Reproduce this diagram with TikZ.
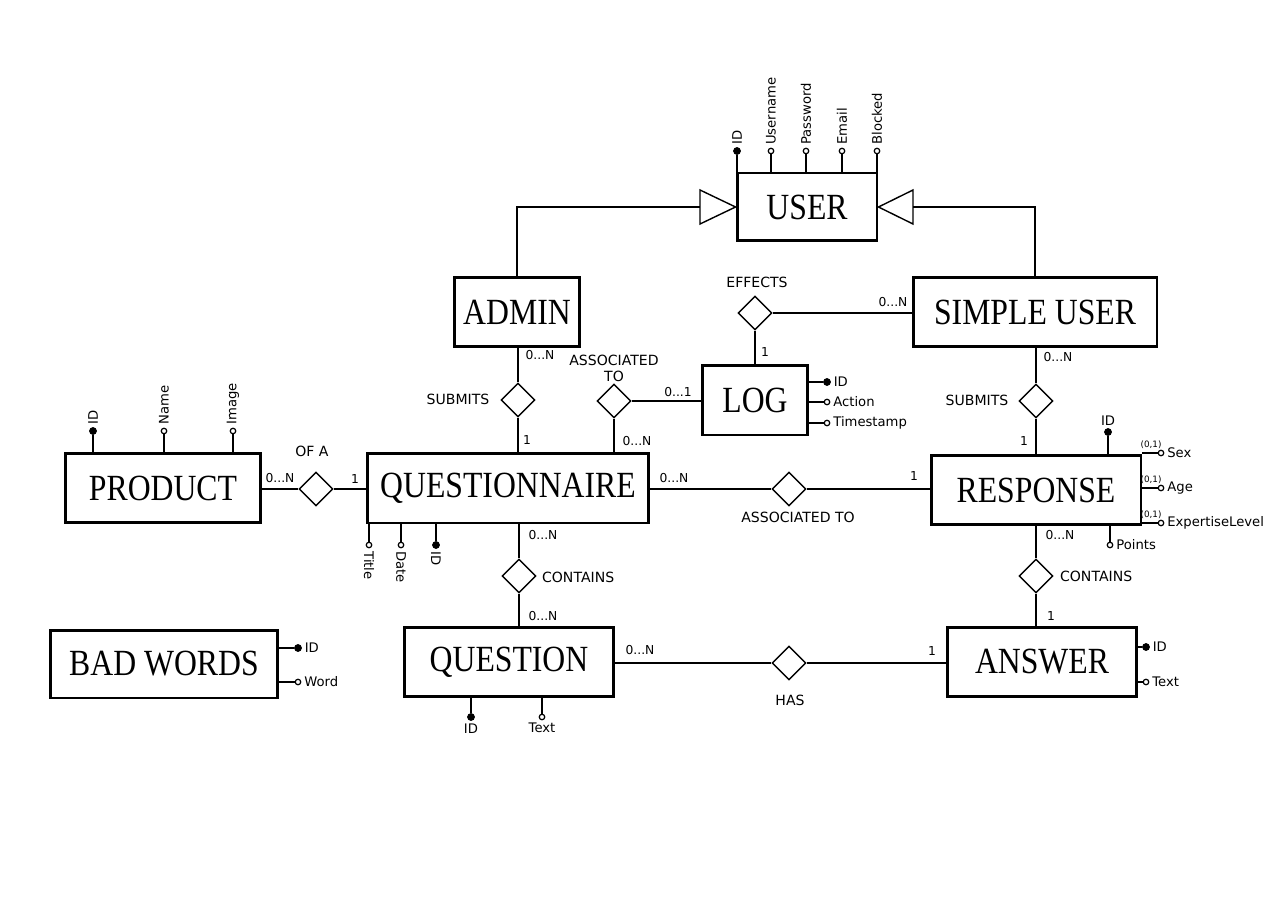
\documentclass[tikz,border=0pt]{standalone}
\usepackage{fontspec}
\setmainfont{Liberation Serif}
\newfontfamily\entfont[FakeStretch=0.86]{Liberation Serif}
\newfontfamily\handfont{DejaVu Sans}
\usetikzlibrary{shapes.geometric,calc,positioning}

\begin{document}
\begin{tikzpicture}
    [x=0.02cm, y=-0.02cm,
        entity/.style={
          rectangle,
          draw=black,
          line width=1.7pt,
          inner sep=0pt,
          minimum height=1.38cm,
          font=\entfont\fontsize{21}{21}\selectfont
        },
        rel/.style={
          diamond,
          draw=black,
          line width=0.8pt,
          aspect=1,
          inner sep=0pt,
          minimum size=0.68cm
        },
        keydot/.style={circle, draw=black, fill=black, inner sep=0pt, minimum size=0.14cm},
        attrdot/.style={circle, draw=black, fill=white, line width=0.7pt, inner sep=0pt, minimum size=0.11cm},
        link/.style={line width=0.8pt},
        lbl/.style={font=\handfont\fontsize{8}{9}\selectfont, inner sep=1pt, align=center},
        card/.style={font=\handfont\fontsize{7}{8}\selectfont, inner sep=1pt},
        attrlbl/.style={font=\handfont\fontsize{7.5}{8.5}\selectfont, inner sep=1.5pt},
        optlbl/.style={font=\handfont\fontsize{5}{5}\selectfont, inner sep=0pt}
    ]
    \path[fill=white, use as bounding box] (0,0) rectangle (1280,905);

    % entities
    \node[entity, minimum width=2.8cm, minimum height=1.36cm] (user) at (807,207) {USER};
    \node[entity, minimum width=2.5cm] (admin) at (517,312) {ADMIN};
    \node[entity, minimum width=4.88cm] (suser) at (1035,312) {SIMPLE USER};
    \node[entity, minimum width=2.1cm, minimum height=1.4cm] (log) at (755,400) {LOG};
    \node[entity, minimum width=3.9cm] (product) at (163,488) {PRODUCT};
    \node[entity, minimum width=5.62cm, minimum height=1.4cm] (qnaire) at (508,488) {QUESTIONNAIRE};
    \node[entity, minimum width=4.2cm] (response) at (1036,490) {RESPONSE};
    \node[entity, minimum width=4.56cm, minimum height=1.36cm] (badwords) at (164,664) {BAD WORDS};
    \node[entity, minimum width=4.2cm] (question) at (509,662) {QUESTION};
    \node[entity, minimum width=3.78cm] (answer) at (1042,662) {ANSWER};

    % relationships
    \node[rel] (subA) at (518,400) {};
    \node[rel] (assocL) at (614,401) {};
    \node[rel] (effects) at (755,313) {};
    \node[rel] (subS) at (1036,401) {};
    \node[rel] (ofA) at (316,489) {};
    \node[rel] (assocM) at (789,489) {};
    \node[rel] (contQ) at (519,576) {};
    \node[rel] (contR) at (1036,576) {};
    \node[rel] (has) at (789,663) {};

    \node[lbl] at (458,399) {SUBMITS};
    \node[lbl] at (614,368) {ASSOCIATED\\TO};
    \node[lbl] at (757,282) {EFFECTS};
    \node[lbl] at (977,400) {SUBMITS};
    \node[lbl] at (312,451) {OF A};
    \node[lbl] at (798,517) {ASSOCIATED TO};
    \node[lbl, anchor=west] at (540,577) {CONTAINS};
    \node[lbl, anchor=west] at (1058,576) {CONTAINS};
    \node[lbl] at (790,700) {HAS};

    % generalisation
    \coordinate (isaL) at (700,207);
    \coordinate (isaR) at (913,207);
    \draw[link] (admin.north) |- (isaL);
    \draw[link] (suser.north) |- (isaR);
    \draw[link] (user.west) -- ($(isaL)+(0,-17)$) -- ($(isaL)+(0,17)$) -- cycle;
    \draw[link] (user.east) -- ($(isaR)+(0,-17)$) -- ($(isaR)+(0,17)$) -- cycle;

    % connectors
    \draw[link] (subA |- admin.south) -- (subA.north);
    \draw[link] (subA.south) -- (subA |- qnaire.north);
    \draw[link] (assocL.east) -- (assocL -| log.west);
    \draw[link] (assocL.south) -- (assocL |- qnaire.north);
    \draw[link] (effects.east) -- (effects -| suser.west);
    \draw[link] (effects.south) -- (effects |- log.north);
    \draw[link] (subS |- suser.south) -- (subS.north);
    \draw[link] (subS.south) -- (subS |- response.north);
    \draw[link] (product.east |- ofA) -- (ofA.west);
    \draw[link] (ofA.east) -- (ofA -| qnaire.west);
    \draw[link] (qnaire.east |- assocM) -- (assocM.west);
    \draw[link] (assocM.east) -- (assocM -| response.west);
    \draw[link] (contQ |- qnaire.south) -- (contQ.north);
    \draw[link] (contQ.south) -- (contQ |- question.north);
    \draw[link] (contR |- response.south) -- (contR.north);
    \draw[link] (contR.south) -- (contR |- answer.north);
    \draw[link] (question.east |- has) -- (has.west);
    \draw[link] (has.east) -- (has -| answer.west);

    % cardinalities
    \node[card] at (540,355) {0...N};
    \node[card] at (527,440) {1};
    \node[card] at (678,392) {0...1};
    \node[card] at (637,441) {0...N};
    \node[card] at (893,302) {0...N};
    \node[card] at (765,352) {1};
    \node[card] at (1058,357) {0...N};
    \node[card] at (1024,441) {1};
    \node[card] at (280,478) {0...N};
    \node[card] at (355,479) {1};
    \node[card] at (674,478) {0...N};
    \node[card] at (914,476) {1};
    \node[card] at (543,535) {0...N};
    \node[card] at (543,616) {0...N};
    \node[card] at (1060,535) {0...N};
    \node[card] at (1051,616) {1};
    \node[card] at (640,650) {0...N};
    \node[card] at (932,651) {1};

    % attributes
    \foreach \x/\s/\t [count=\i] in {737/keydot/ID, 771/attrdot/Username, 806/attrdot/Password, 842/attrdot/Email, 877/attrdot/Blocked} {
      \node[\s] (ua\i) at (\x,151) {};
      \draw[link] (ua\i) -- (ua\i |- user.north);
      \node[attrlbl, rotate=90, anchor=west] at (ua\i.north) {\t};
    }
    \foreach \y/\s/\t [count=\i] in {382/keydot/ID, 402/attrdot/Action, 423/attrdot/Timestamp} {
      \node[\s] (la\i) at (827,\y) {};
      \draw[link] (la\i) -- (la\i -| log.east);
      \node[attrlbl, anchor=west] at (la\i.east) {\t};
    }
    \foreach \x/\s/\t [count=\i] in {93/keydot/ID, 164/attrdot/Name, 233/attrdot/Image} {
      \node[\s] (pa\i) at (\x,431) {};
      \draw[link] (pa\i) -- (pa\i |- product.north);
      \node[attrlbl, rotate=90, anchor=west] at (pa\i.north) {\t};
    }
    \foreach \x/\s/\t [count=\i] in {369/attrdot/Title, 401/attrdot/Date, 436/keydot/ID} {
      \node[\s] (qa\i) at (\x,545) {};
      \draw[link] (qa\i) -- (qa\i |- qnaire.south);
      \node[attrlbl, rotate=-90, anchor=west] at (qa\i.south) {\t};
    }
    \node[keydot] (ra0) at (1108,432) {};
    \draw[link] (ra0) -- (ra0 |- response.north);
    \node[attrlbl, anchor=south] at (ra0.north) {ID};
    \foreach \y/\t [count=\i] in {453/Sex, 488/Age, 523/ExpertiseLevel} {
      \node[attrdot] (ra\i) at (1161,\y) {};
      \draw[link] (ra\i) -- (ra\i -| response.east);
      \node[attrlbl, anchor=west] at (ra\i.east) {\t};
      \node[optlbl] at (1151,\y-8) {(0,1)};
    }
    \node[attrdot] (ra4) at (1110,545) {};
    \draw[link] (ra4) -- (ra4 |- response.south);
    \node[attrlbl, anchor=west] at (ra4.east) {Points};
    \foreach \y/\s/\t [count=\i] in {648/keydot/ID, 682/attrdot/Word} {
      \node[\s] (ba\i) at (298,\y) {};
      \draw[link] (ba\i) -- (ba\i -| badwords.east);
      \node[attrlbl, anchor=west] at (ba\i.east) {\t};
    }
    \foreach \x/\s/\t [count=\i] in {471/keydot/ID, 542/attrdot/Text} {
      \node[\s] (qu\i) at (\x,717) {};
      \draw[link] (qu\i) -- (qu\i |- question.south);
      \node[attrlbl, anchor=north] at (qu\i.south) {\t};
    }
    \foreach \y/\s/\t [count=\i] in {647/keydot/ID, 682/attrdot/Text} {
      \node[\s] (an\i) at (1146,\y) {};
      \draw[link] (an\i) -- (an\i -| answer.east);
      \node[attrlbl, anchor=west] at (an\i.east) {\t};
    }
\end{tikzpicture}
\end{document}
